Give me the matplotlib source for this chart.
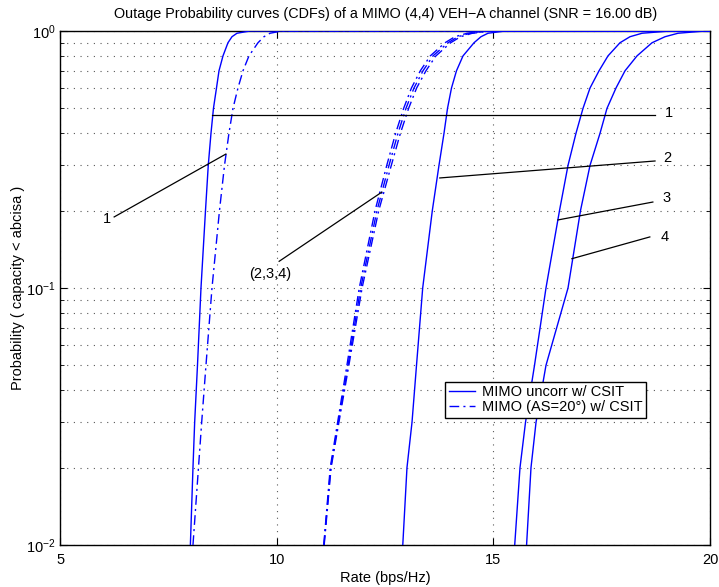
import numpy as np
import matplotlib
matplotlib.use("Agg")
import matplotlib.pyplot as plt
from matplotlib.ticker import LogLocator, NullLocator, NullFormatter

plt.rcParams.update({
    "font.family": ["Liberation Sans", "DejaVu Sans"],
    "font.size": 10.5,
    "axes.linewidth": 1.0,
    "xtick.direction": "in",
    "ytick.direction": "in",
    "xtick.top": True,
    "ytick.right": True,
    "xtick.major.size": 5,
    "ytick.major.size": 5,
    "ytick.minor.size": 3,
    "xtick.major.pad": 6,
    "xtick.labelsize": 10.5,
    "ytick.labelsize": 10.5,
})

# ---------------------------------------------------------------------------
# Data
# ---------------------------------------------------------------------------
PROB = [0.01, 0.02, 0.03, 0.05, 0.1, 0.2, 0.3, 0.4, 0.5, 0.6, 0.7, 0.8,
        0.9, 0.95, 0.98, 1.0, 1.0]

# solid: uncorrelated MIMO with CSIT, curves 1..4
RATE_UNC_1 = [8.000, 8.060, 8.099, 8.164, 8.245, 8.349, 8.413, 8.476, 8.533,
              8.603, 8.661, 8.753, 8.868, 8.961, 9.076, 9.376, 20.0]
RATE_UNC_2 = [12.905, 13.002, 13.118, 13.222, 13.365, 13.587, 13.741, 13.857,
              13.938, 14.030, 14.145, 14.296, 14.550, 14.711, 14.873, 15.266, 20.0]
RATE_UNC_3 = [15.490, 15.612, 15.739, 15.947, 16.212, 16.524, 16.721, 16.905,
              17.067, 17.229, 17.437, 17.644, 17.921, 18.152, 18.430, 19.076, 20.0]
RATE_UNC_4 = [15.764, 15.866, 15.982, 16.212, 16.721, 17.009, 17.229, 17.460,
              17.621, 17.829, 18.037, 18.314, 18.661, 18.961, 19.261, 19.885, 20.0]

# dash-dot: correlated MIMO (AS=20 deg) with CSIT, curves 1..4
RATE_AS_1 = [8.060, 8.187, 8.261, 8.360, 8.499, 8.672, 8.788, 8.891, 8.984,
             9.099, 9.215, 9.353, 9.561, 9.700, 9.838, 10.115, 20.0]
RATE_AS_2 = [11.080, 11.230, 11.400, 11.615, 11.900, 12.265, 12.535, 12.740,
             12.925, 13.105, 13.310, 13.540, 13.880, 14.110, 14.390, 14.860, 20.0]
RATE_AS_3 = [11.085, 11.240, 11.416, 11.640, 11.933, 12.309, 12.587, 12.794,
             12.979, 13.164, 13.372, 13.603, 13.949, 14.180, 14.457, 14.919, 20.0]
RATE_AS_4 = [11.090, 11.250, 11.430, 11.660, 11.965, 12.350, 12.640, 12.850,
             13.040, 13.225, 13.440, 13.670, 14.010, 14.240, 14.510, 14.970, 20.0]

# annotation lines: (label, text position, line start, line end)
ANNOTATIONS = [
    ("1",       (18.96, 0.478), (8.50, 0.471), (18.73, 0.471)),
    ("2",       (18.91, 0.321), (13.76, 0.268), (18.73, 0.312)),
    ("3",       (18.91, 0.224), (16.49, 0.184), (18.68, 0.216)),
    ("4",       (18.87, 0.158), (16.81, 0.130), (18.61, 0.158)),
    ("1",       (5.98, 0.185),  (6.24, 0.189),  (8.82, 0.332)),
    ("(2,3,4)", (9.84, 0.113),  (10.05, 0.127), (12.42, 0.236)),
]

BLUE = "#0000ff"
DASHDOT = (0, (7, 3, 1.5, 3))

fig = plt.figure(figsize=(7.19, 5.87), dpi=100)
ax = fig.add_axes([0.0841, 0.0716, 0.9034, 0.8756])

for rate in [RATE_UNC_1, RATE_UNC_2, RATE_UNC_3, RATE_UNC_4]:
    ax.plot(rate, PROB, color=BLUE, lw=1.0, zorder=3)
for rate in [RATE_AS_1, RATE_AS_2, RATE_AS_3, RATE_AS_4]:
    ax.plot(rate, PROB, color=BLUE, lw=1.0, ls=DASHDOT, zorder=3)

# legend proxies
ax.plot([], [], color=BLUE, lw=1.0, label="MIMO uncorr w/ CSIT")
ax.plot([], [], color=BLUE, lw=1.0, ls=DASHDOT, label="MIMO (AS=20°) w/ CSIT")

for text, tpos, p0, p1 in ANNOTATIONS:
    ax.plot([p0[0], p1[0]], [p0[1], p1[1]], color="black", lw=0.9, zorder=4)
    ax.text(tpos[0], tpos[1], text, ha="left" if text != "(2,3,4)" else "center",
            va="center", fontsize=10.5)

ax.set_yscale("log")
ax.set_xlim(5, 20)
ax.set_ylim(1e-2, 1)
ax.set_xticks([5, 10, 15, 20])
ax.xaxis.set_minor_locator(NullLocator())
ax.yaxis.set_major_locator(LogLocator(base=10, numticks=5))
ax.yaxis.set_minor_locator(LogLocator(base=10, subs=np.arange(2, 10), numticks=20))
ax.yaxis.set_minor_formatter(NullFormatter())

grid_style = dict(color="0.35", lw=0.8, ls=(0, (1, 5)))
ax.grid(True, which="major", axis="both", **grid_style)
ax.grid(True, which="minor", axis="y", **grid_style)

ax.set_title("Outage Probability curves (CDFs) of a MIMO (4,4) VEH\u2212A channel (SNR = 16.00 dB)",
             fontsize=10.4, pad=9)
ax.set_xlabel("Rate (bps/Hz)", fontsize=10.5, labelpad=3)
ax.set_ylabel("Probability ( capacity < abcisa )", fontsize=10.5, labelpad=1)

leg = ax.legend(loc="upper right", bbox_to_anchor=(0.902, 0.318), fontsize=10.5,
                frameon=True, fancybox=False, edgecolor="black", framealpha=1,
                handlelength=1.8, borderpad=0.25, labelspacing=0.05,
                handletextpad=0.5, borderaxespad=0)
leg.get_frame().set_linewidth(1.0)

fig.savefig("out.png", dpi=100)
